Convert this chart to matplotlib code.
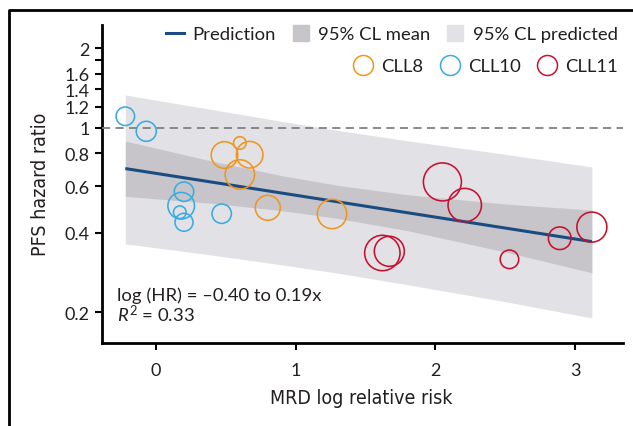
import matplotlib
matplotlib.use("Agg")
import matplotlib.pyplot as plt
from matplotlib.lines import Line2D
from matplotlib import font_manager as fm

# ---------------- data ----------------
cll8_x = [0.60, 0.49, 0.67, 0.60, 0.80, 1.26]
cll8_hr = [0.875, 0.788, 0.790, 0.665, 0.497, 0.471]
cll8_w = [40, 177, 177, 216, 156, 216]

cll10_x = [-0.22, -0.07, 0.20, 0.18, 0.17, 0.20, 0.47]
cll10_hr = [1.105, 0.969, 0.572, 0.506, 0.478, 0.438, 0.472]
cll10_w = [86, 100, 94, 177, 40, 81, 94]

cll11_x = [2.05, 2.21, 1.62, 1.67, 2.53, 2.89, 3.12]
cll11_hr = [0.623, 0.509, 0.335, 0.340, 0.317, 0.381, 0.420]
cll11_w = [361, 279, 313, 225, 86, 128, 225]

pred_x = [-0.22, 3.12]
pred_hr = [0.70, 0.37]

band_x = [-0.22, 0.4, 0.9, 1.3, 1.8, 2.5, 3.12]
mean_hi = [0.890, 0.747, 0.658, 0.605, 0.557, 0.514, 0.487]
mean_lo = [0.549, 0.517, 0.485, 0.453, 0.407, 0.338, 0.282]
pi_hi = [1.33, 1.172, 1.057, 0.977, 0.892, 0.793, 0.71]
pi_lo = [0.363, 0.329, 0.302, 0.281, 0.254, 0.219, 0.190]

yticks = [0.2, 0.4, 0.6, 0.8, 1, 1.2, 1.4, 1.6, 1.8, 2]
ytick_labels = ["0.2", "0.4", "0.6", "0.8", "1", "1.2", "1.4", "1.6", "", "2"]
xticks = [0, 1, 2, 3]

# ---------------- fonts ----------------
avail = {f.name for f in fm.fontManager.ttflist}
base_font = "Lato" if "Lato" in avail else "DejaVu Sans"
if "Liberation Sans Narrow" in avail:
    cond = dict(family="Liberation Sans Narrow", size=15.5)
elif any(f.name == "DejaVu Sans" and f.stretch == "condensed" for f in fm.fontManager.ttflist):
    cond = dict(family="DejaVu Sans", stretch="condensed", size=14)
else:
    cond = dict(family=base_font, size=13)

plt.rcParams["font.family"] = [base_font, "DejaVu Sans"]
plt.rcParams["mathtext.fontset"] = "custom"
plt.rcParams["mathtext.rm"] = base_font
plt.rcParams["mathtext.it"] = base_font + ":italic"

TXT = "#231f20"
BLUE = "#1a4c82"
DARK = "#c7c5c9"
LIGHT = "#e2e2e6"
ORANGE = "#f0961e"
CYAN = "#38ace2"
RED = "#c8102e"

W, H = 633, 427
fig = plt.figure(figsize=(W / 100, H / 100), dpi=100)
ax = fig.add_axes([102 / W, 1 - 344 / H, (623 - 102) / W, (344 - 26) / H])

ax.set_yscale("log")
ax.set_xlim(-0.387, 3.343)
ax.set_ylim(0.1527, 2.451)

ax.fill_between(band_x, pi_lo, pi_hi, color=LIGHT, lw=0, zorder=1)
ax.fill_between(band_x, mean_lo, mean_hi, color=DARK, lw=0, zorder=2)
ax.axhline(1, color="#808080", lw=1.3, dashes=(4.5, 3), zorder=3)
ax.plot(pred_x, pred_hr, color=BLUE, lw=2.2, zorder=4, solid_capstyle="butt")

k = (2 * 0.72) ** 2
for xs, ys, ws, c in [(cll8_x, cll8_hr, cll8_w, ORANGE),
                      (cll10_x, cll10_hr, cll10_w, CYAN),
                      (cll11_x, cll11_hr, cll11_w, RED)]:
    ax.scatter(xs, ys, s=[w * k for w in ws], facecolors="none",
               edgecolors=c, linewidths=1.15, zorder=5)

# axes styling
for s in ["top", "right"]:
    ax.spines[s].set_visible(False)
for s in ["left", "bottom"]:
    ax.spines[s].set_linewidth(2)
    ax.spines[s].set_color("black")
ax.set_yticks(yticks)
ax.set_yticklabels(ytick_labels)
ax.yaxis.set_minor_locator(matplotlib.ticker.NullLocator())
ax.set_xticks(xticks)
ax.tick_params(axis="both", direction="out", length=5, width=1.5,
               color="black", labelsize=13, labelcolor=TXT)
ax.tick_params(axis="y", pad=4)
ax.tick_params(axis="x", pad=9)

ax.set_xlabel("MRD log relative risk", color=TXT, **cond)
ax.xaxis.set_label_coords(0.497, -0.141)
ax.set_ylabel("PFS hazard ratio", color=TXT, **cond)
ax.yaxis.set_label_coords(-0.10, 0.503)

ax.text(0.029, 0.135, "log (HR) = \u20130.40 to 0.19x", transform=ax.transAxes,
        fontsize=13.3, color=TXT, va="baseline", ha="left")
ax.text(0.029, 0.069, r"$R^2$ = 0.33", transform=ax.transAxes,
        fontsize=13.3, color=TXT, va="baseline", ha="left")

# legends
h1 = [Line2D([], [], color=BLUE, lw=2.2),
      Line2D([], [], marker="s", ms=11, color=DARK, ls="none"),
      Line2D([], [], marker="s", ms=11, color=LIGHT, ls="none")]
leg1 = ax.legend(h1, ["Prediction", "95% CL mean", "95% CL predicted"],
                 ncol=3, loc="center right", bbox_to_anchor=(618 / W, 1 - 35 / H),
                 bbox_transform=fig.transFigure, frameon=False, fontsize=13.3,
                 handlelength=1.0, handletextpad=0.45, columnspacing=0.85,
                 borderpad=0, borderaxespad=0, labelcolor=TXT)
ax.add_artist(leg1)
h2 = [Line2D([], [], marker="o", ms=14.4, mfc="none", mec=c, mew=1.1, ls="none")
      for c in (ORANGE, CYAN, RED)]
ax.legend(h2, ["CLL8", "CLL10", "CLL11"], ncol=3, loc="center right",
          bbox_to_anchor=(618 / W, 1 - 67 / H), bbox_transform=fig.transFigure,
          frameon=False, fontsize=13.3, handlelength=1.1, handletextpad=0.45,
          columnspacing=0.85, borderpad=0, borderaxespad=0, labelcolor=TXT)

# outer frame (left and top edges)
fig.add_artist(Line2D([9 / W, 9 / W, 1], [0, 1 - 11 / H, 1 - 11 / H],
                      transform=fig.transFigure, color="black", lw=2))

fig.savefig("out.png", dpi=100)
